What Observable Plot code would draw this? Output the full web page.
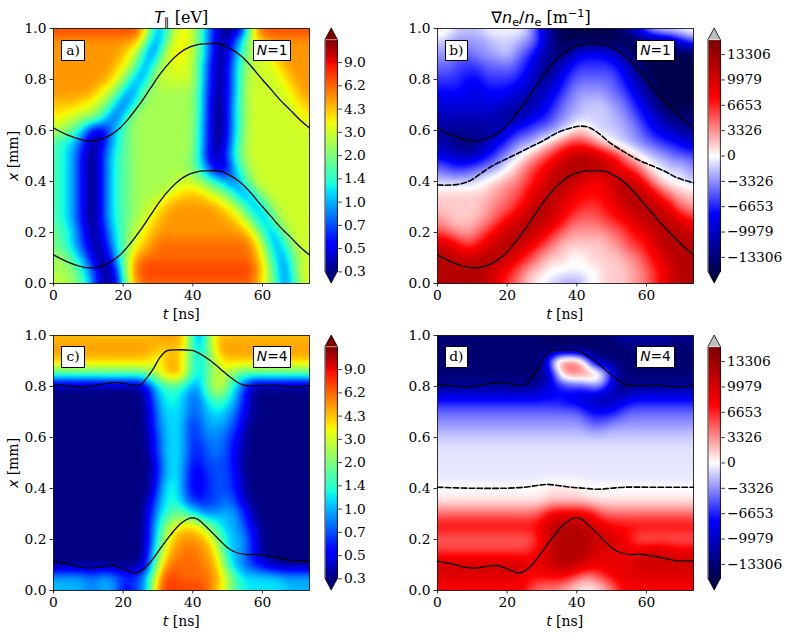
<!DOCTYPE html>
<html><head><meta charset="utf-8">
<script src="https://cdn.jsdelivr.net/npm/d3@7"></script>
<script src="https://cdn.jsdelivr.net/npm/@observablehq/plot@0.6"></script>
<style>
body{margin:0;background:#fff;}
#fig{position:relative;width:789px;height:635px;background:#fff;overflow:hidden;}
.abs{position:absolute;white-space:nowrap;color:#000;line-height:1;}
.serif{font-family:"DejaVu Serif";}
.mi{font-family:"DejaVu Sans";font-style:italic;}
.mr{font-family:"DejaVu Sans";}
.sb{font-family:"DejaVu Sans";font-size:0.7em;position:relative;top:0.3em;}
.sp{font-family:"DejaVu Sans";font-size:0.7em;position:relative;top:-0.5em;}
.box{position:absolute;background:#fff;border:1px solid #000;box-sizing:border-box;display:flex;align-items:center;justify-content:center;font-size:13.8px;line-height:1;white-space:nowrap;}
</style></head><body><div id="fig"></div><script>
// ---------------- data ----------------
const tGrid = [0,2,4,6,8,10,12,14,16,18,20,22,24,26,28,30,32,34,36,38,40,42,44,46,48,50,52,54,56,58,60,62,64,66,68,70,72,73.5];
const xGrid = [1,0.95,0.9,0.85,0.8,0.75,0.7,0.65,0.6,0.55,0.5,0.45,0.4,0.35,0.3,0.25,0.2,0.15,0.1,0.05,0];
// level letters: a = colorbar bottom ... u = colorbar top (steps of 0.05); capitals = half steps
const rowsA = [
 "rrrrrrrrrrrrr"+"pjfhlnnmjgdbaachp"+"rrrrrrrr",
 "pppppppppppp"+"omgfimnnmjgcabehlno"+"ppppppp",
 "pppppppppp"+"onlhehm"+"nnnm"+"jgcabfilmmno"+"ppppp",
 "ppppppppp"+"onmjfgl"+"mmnmm"+"ifbacgjl"+"mmm"+"no"+"pppp",
 "pppppppp"+"onlifgk"+"mmmmmm"+"ifbacgj"+"mmmmm"+"no"+"ppp",
 "pppppp"+"onmkhfgk"+"lllllll"+"iebacgj"+"mmmmmm"+"no"+"pp",
 "oooo"+"nnmljgegj"+"llllllll"+"ieaachj"+"mmmmmmm"+"noo",
 "nnmmllkifehk"+"lllllllll"+"ieaachj"+"mmmmmmmm"+"nn",
 "mlkjhebbehjk"+"lllllllll"+"heaachj"+"mmmmmmmmmm",
 "jihgebacfhjk"+"lllllllll"+"heaadhk"+"mmmmmmmmmm",
 "jihfdaadgijk"+"llllllll"+"khdabeik"+"mmmmmmmmmm",
 "jihfdaadgijk"+"llllllll"+"kifcbcgjl"+"mmmmmmmmm",
 "jihfdaadgijk"+"llllll"+"mmmlkihfehk"+"mmmmmmmmm",
 "jihfdaadgijk"+"llll"+"mnnooonmlkiffil"+"mmmmmmm",
 "jihfdaadgijk"+"llmno"+"ppppppp"+"onmkhfhk"+"mmmmmm",
 "jihfdaadgijk"+"lmno"+"pppppppppp"+"onlifhk"+"mmmmm",
 "kjigebacfhjlmno"+"ppppppppppppp"+"omjfhk"+"mmmm",
 "kjigecabehjlnop"+"qqqqqqqqqqqqqq"+"omifhk"+"mmm",
 "llkigebacgjnp"+"qqqqqqqqqqqqqqqq"+"pnkgfilmm",
 "lllkigdaadioq"+"rrrrrrrrrrrrrrrr"+"qoliehlmn",
 "mmlljhebachnp"+"qqqqqqqqqqqqqqqq"+"pnljfgkmn"
];
const rowsB = [
 "llk"+"jjjj"+"kk"+"kkk"+"kjhecb"+"aaaaaaaa"+"bcegik"+"llllll",
 "jj"+"iiii"+"ii"+"jjj"+"jiihfdb"+"aaaaaaaaa"+"aaabbbcdfgh",
 "iii"+"hhh"+"iii"+"jj"+"ihgfdcbbce"+"ffff"+"edcb"+"aaaaaaaaa",
 "hhh"+"gggg"+"hhhhh"+"gfecbcef"+"gggggg"+"fecb"+"aaaaaaaa",
 "gggg"+"fff"+"ggggg"+"fedccefg"+"hhhhhh"+"gfecb"+"aaaaaaa",
 "fffff"+"ee"+"ffff"+"eedcdefgh"+"iiiii"+"hhgfecb"+"aaaaaa",
 "eeeeeeeeee"+"ddccdefghii"+"jjjj"+"iihgfecb"+"aaaaa",
 "ddddddddd"+"ccc"+"deffghii"+"jjjjjj"+"iihgfedcbbbc",
 "ccccccccc"+"defgghhiijkllkjjjjiihgfeedccc",
 "dccbbbcdefghiijklmnooonmlkjjiihhggffee",
 "feedddefghijklmnopqrsssrqpomlkjjiihhhg",
 "hhggghhiijklmnopqr"+"sssssss"+"rqponlkkjjjii",
 "jjjjjj"+"kkllmmnopqrsss"+"rqppqrssrqomlkkkjj",
 "llllllll"+"mmnnopqrssrq"+"ppppp"+"qrsssrqonmlll",
 "lllllll"+"mmnnopqsssrqppooopp"+"qr"+"ssss"+"rqonmm",
 "mm"+"llll"+"mmnopqrsssrqpo"+"nnnn"+"ooppqr"+"ssss"+"rqpo",
 "onnmmmnopqrsssrqpon"+"mmmmmm"+"nnoppqr"+"ssss"+"rq",
 "rrqpoopqrsssrqponm"+"lllllll"+"mmnoopqr"+"sssss",
 "sss"+"rrr"+"ssss"+"rqponm"+"lll"+"kkk"+"lllll"+"mmnopqr"+"ssss",
 "ssssssss"+"rqponmll"+"kkk"+"kkk"+"kk"+"llll"+"mmnopqr"+"sss",
 "sssssss"+"rqponmlkkj"+"jiiij"+"kk"+"llll"+"mmnopqr"+"sss"
];
const rowsC = [
 "ooooooooooooooo"+"pppp"+"ohejn"+"oooooooooooooo",
 "ppppppppppppppp"+"oooo"+"nigjn"+"pppppppppppppp",
 "oooooooooooooo"+"nmopomihjln"+"ooooooooooooo",
 "jjjjjjjjjjjjjj"+"lmoppmigjlmlk"+"jjjjjjjjjjj",
 "aaaaaaaaaaaaa"+"behijihfgjmnkhfc"+"aaaaaaaaa",
 "aaaaaaaaaaaaaa"+"dghihgefhjjigeb"+"aaaaaaaaa",
 "aaaaaaaaaaaaaa"+"cfhhhgefghhgfdb"+"aaaaaaaaa",
 "aaaaaaaaaaaaaa"+"cfghhfdegggfec"+"aaaaaaaaaa",
 "aaaaaaaaaaaaaa"+"beghhfdefffedb"+"aaaaaaaaaa",
 "aaaaaaaaaaaaaa"+"beghhfddeffecb"+"aaaaaaaaaa",
 "aaaaaaaaaaaaaaa"+"dghhfcdeeeec"+"aaaaaaaaaaa",
 "aaaaaaaaaaaaaaa"+"dghheccdeeedb"+"aaaaaaaaaa",
 "aaaaaaaaaaaaaaa"+"ehiheccdeeedb"+"aaaaaaaaaa",
 "aaaaaaaaaaaaaa"+"cfhihfdddeefec"+"aaaaaaaaaa",
 "aaaaaaaaaaaaaa"+"dgijkjigffgggec"+"aaaaaaaaa",
 "aaaaaaaaaaaaaa"+"ehkmnoonljhggfdb"+"aaaaaaaa",
 "aaaaaaaaaaaaaa"+"eilopppp"+"omjhggec"+"aaaaaaaa",
 "aaaaaaaaaaaaaa"+"fjnppqqppolhggec"+"aaaaaaaa",
 "aaaaaaaaaaaaa"+"bglpqqqqq"+"ppnigfedcb"+"aaaaaa",
 "ggggg"+"ffggfedef"+"jorr"+"qqqqq"+"pomj"+"hhhhhh"+"ggggg",
 "hgggg"+"ffggfccef"+"jq"+"rrrrrr"+"qpnlji"+"hhhhhh"+"gggg"
];
const rowsD = [
 "bbbbbbbbbbbbbbbbbbbbbbbbbb"+"c"+"ddddddd"+"cccc",
 "bbbbbbbbbbbbbbbb"+"aaaaaaa"+"bbbbbbbbbbbbbbb",
 "bbbbbbbbbbbbbbb"+"chmnnnlgc"+"bbbbbbbbbbbbbb",
 "bbbbbbbbbbbbbbbb"+"dhmnnnnmkfc"+"bbbbbbbbbbb",
 "ccccccccccccccc"+"deffggghigecb"+"cccccccccc",
 "fffffffffffffffffff"+"eeddccdde"+"ffffffffff",
 "hhhhhhhhhhhhhhhhhhhhh"+"gffffg"+"hhhhhhhhhhh",
 "iiiiiiiiiiiiiiiiiiiiii"+"hhh"+"iiiiiiiiiiiii",
 "jjjjjjjjjjjjjjjjjjjjjjjjjjjjjjjjjjjjjj",
 "JJJJJJJJJJJJJJJJJJJJJJJJJJJJJJJJJJJJJJ",
 "JJJJJJJJJJJJJJJJJJJJJJJJJJJJJJJJJJJJJJ",
 "JJJJJJJJJJJJJJJJJJJJJJJJJJJJJJJJJJJJJJ",
 "kkkkkkkkkkkkkkkk"+"KKKKK"+"kkkkkkkkkkkkkkkkk",
 "KKKKKKKKKKKKKKKK"+"llllll"+"KKKKKKKKKKKKKKKK",
 "nnnnnnnnnnnnnnn"+"op"+"qqqqq"+"po"+"nnnnnnnnnnnnnn",
 "ppppppppppppppp"+"qr"+"sssss"+"rqq"+"ppppppppppppp",
 "nnnnnnnnnnnnnn"+"opr"+"ssssss"+"rrrqpo"+"nnnnnnnnn",
 "oooooooooooooo"+"pqr"+"sssss"+"r"+"qqqqqqq"+"rrrr"+"qqqq",
 "rrrrrrrrrrrrr"+"qqq"+"rrssrr"+"qqqqqqq"+"rrrrrrrrr",
 "qqqqqqqqqqqqq"+"pppppp"+"onmmnop"+"qqqqqqqqqqqq",
 "ppppppppppppp"+"onmmmllkkkklmo"+"ppppppppppp"
];
// black curves [t (ns), x (mm)]
const upperN1 = [[0,0.610],[3.8,0.584],[7.7,0.565],[10.5,0.558],[13.4,0.565],[16.3,0.582],[19.1,0.610],[22.0,0.654],[24.9,0.706],[27.8,0.765],[30.6,0.821],[33.5,0.869],[36.4,0.906],[39.2,0.928],[42.1,0.939],[45.0,0.941],[47.9,0.939],[50.7,0.922],[53.6,0.895],[56.5,0.856],[59.3,0.810],[62.2,0.765],[65.1,0.719],[68.0,0.680],[70.8,0.641],[73.5,0.610]];
const lowerN1 = [[0,0.112],[3.8,0.086],[7.7,0.067],[10.5,0.061],[13.4,0.067],[16.3,0.084],[19.1,0.112],[22.0,0.156],[24.9,0.208],[27.8,0.267],[30.6,0.323],[33.5,0.371],[36.4,0.408],[39.2,0.430],[42.1,0.441],[45.0,0.443],[47.9,0.441],[50.7,0.424],[53.6,0.397],[56.5,0.358],[59.3,0.312],[62.2,0.267],[65.1,0.221],[68.0,0.182],[70.8,0.143],[73.5,0.112]];
const zeroN1 = [[0,0.386],[3.8,0.386],[6.7,0.391],[9.6,0.405],[12.4,0.431],[15.3,0.458],[19.1,0.484],[23.0,0.510],[26.8,0.536],[30.6,0.562],[34.5,0.592],[38.3,0.610],[41.2,0.617],[43.1,0.614],[45.0,0.601],[46.9,0.582],[49.8,0.549],[53.6,0.516],[57.4,0.486],[61.2,0.464],[65.1,0.441],[68.9,0.414],[73.5,0.395]];
const upperN4 = [[0,0.804],[2.9,0.804],[5.7,0.801],[9.6,0.800],[13.4,0.807],[17.2,0.816],[20.1,0.813],[23.0,0.804],[24.9,0.806],[26.8,0.834],[28.7,0.870],[30.6,0.915],[32.5,0.940],[35.4,0.944],[38.3,0.943],[40.2,0.941],[42.1,0.928],[45.0,0.902],[47.9,0.869],[50.7,0.837],[53.6,0.810],[55.5,0.803],[59.3,0.803],[63.2,0.804],[67.0,0.801],[70.8,0.800],[73.5,0.804]];
const lowerN4 = [[0,0.115],[3.8,0.105],[7.7,0.092],[10.5,0.088],[14.4,0.095],[17.2,0.098],[20.1,0.085],[23.0,0.069],[24.9,0.075],[27.8,0.111],[30.6,0.163],[33.5,0.216],[36.4,0.261],[39.2,0.284],[41.2,0.281],[44.0,0.248],[46.9,0.209],[49.8,0.170],[52.6,0.148],[55.5,0.141],[58.4,0.142],[61.2,0.137],[65.1,0.127],[67.9,0.118],[70.8,0.115],[73.5,0.115]];
const zeroN4 = [[0,0.405],[9.6,0.401],[19.1,0.401],[24.9,0.405],[28.7,0.412],[31.6,0.416],[34.5,0.412],[38.3,0.405],[42.1,0.401],[45.9,0.397],[49.8,0.401],[53.6,0.405],[61.2,0.405],[73.5,0.405]];
const tTicks = [0,20,40,60];
const xTicks = [0,0.2,0.4,0.6,0.8,1.0];
const tempTicks = [0.3176,0.4605,0.6678,0.9683,1.404,2.036,2.952,4.281,6.207,9.0];
const gradTicks = [-13306,-9979,-6653,-3326,0,3326,6653,9979,13306];
const tMax = 73.5, tempLo = 0.3176, tempHi = 12.9, gradMax = 15207;

// ---------------- colour maps ----------------
function seg(t, pts){for(let i=1;i<pts.length;i++){if(t<=pts[i][0]){const [a,ya]=pts[i-1],[b,yb]=pts[i];return ya+(yb-ya)*(t-a)/(b-a);}}return pts[pts.length-1][1];}
function jet(t){t=Math.max(0,Math.min(1,t));
 const r=seg(t,[[0,0],[0.35,0],[0.66,1],[0.89,1],[1,0.5]]);
 const g=seg(t,[[0,0],[0.125,0],[0.375,1],[0.64,1],[0.91,0],[1,0]]);
 const b=seg(t,[[0,0.5],[0.11,1],[0.34,1],[0.65,0],[1,0]]);
 return `rgb(${Math.round(r*255)},${Math.round(g*255)},${Math.round(b*255)})`;}
const seisBase = d3.piecewise(d3.interpolateRgb, ["#00004d","#0000ff","#ffffff","#ff0000","#800000"]);
const seismic = t => seisBase(Math.max(0, Math.min(1, t)));

const lev = ch => { const k = ch.charCodeAt(0); return k >= 97 ? (k-97)*0.05 : (k-65+0.5)*0.05; };
const tempOf = ch => tempLo * Math.pow(tempHi/tempLo, lev(ch));
const gradOf = ch => -gradMax + 2*gradMax*lev(ch);
function gridData(rows, decode){
  const out=[];
  rows.forEach((row,r)=>{for(let c=0;c<tGrid.length;c++){const ch=row[Math.min(c,row.length-1)];out.push({t:tGrid[c],x:xGrid[r],v:decode(ch)});}});
  return out;
}
// barycentric interpolation (Plot) followed by a light blur; optionally in log space
function smoothInterp(logSpace, radius){
  if (!Plot.interpolatorBarycentric) return "barycentric";
  const bary = Plot.interpolatorBarycentric();
  return (index,w,h,X,Y,V) => {
    const W = new Float64Array(V.length);
    for (let i=0;i<V.length;i++) W[i] = logSpace ? Math.log(V[i]) : +V[i];
    const out = Float64Array.from(bary(index,w,h,X,Y,W));
    let last = NaN;
    for (let i=0;i<out.length;i++){ if (isNaN(out[i])) out[i]=last; else last=out[i]; }
    for (let i=out.length-1;i>=0;i--){ if (isNaN(out[i])) out[i]=last; else last=out[i]; }
    if (d3.blur2 && radius>0) d3.blur2({data:out,width:w,height:h}, radius);
    return logSpace ? out.map(Math.exp) : out;
  };
}

const colorT = {type:"log", domain:[tempLo,tempHi], interpolate: jet};
const colorG = {type:"linear", domain:[-gradMax,gradMax], interpolate: seismic};
const svgStyle = {fontFamily:"DejaVu Serif", fontSize:"13.8px", background:"none", overflow:"visible", color:"black"};

const fig = document.getElementById("fig");
function place(el,left,top){el.style.position="absolute";el.style.left=left+"px";el.style.top=top+"px";fig.appendChild(el);}

const F = {a:{L:53.3,R:309.3,T:28.3,B:283.3}, b:{L:436.7,R:692.7,T:28.3,B:283.3}, c:{L:53.3,R:309.3,T:335,B:590}, d:{L:436.7,R:692.7,T:335,B:590}};

function panel(f, rows, decode, color, interp, curves){
  const mL=50,mT=25,mR=6,mB=25, w=f.R-f.L, h=f.B-f.T;
  const marks=[Plot.raster(gridData(rows,decode),{x:"t",y:"x",fill:"v",interpolate:interp,x1:0,x2:tMax,y1:0,y2:1,pixelSize:2})];
  curves.forEach(cv=>{
    const o={x:d=>d[0],y:d=>d[1],curve:"catmull-rom",stroke:"black",strokeWidth:cv.dash?1.6:1.3};
    if(cv.dash) o.strokeDasharray="5.5,2.4";
    marks.push(Plot.line(cv.pts,o));
  });
  marks.push(Plot.frame({stroke:"black",strokeWidth:0.8}));
  marks.push(Plot.axisX({ticks:tTicks,tickSize:3.5,tickPadding:3.5,strokeWidth:0.8,label:null}));
  marks.push(Plot.axisY({ticks:xTicks,tickFormat:d=>d.toFixed(1),tickSize:3.5,tickPadding:3.5,strokeWidth:0.8,label:null}));
  const svg=Plot.plot({width:w+mL+mR,height:h+mT+mB,marginLeft:mL,marginRight:mR,marginTop:mT,marginBottom:mB,
    x:{domain:[0,tMax],label:null},y:{domain:[0,1],label:null},color,style:svgStyle,marks});
  place(svg,f.L-mL,f.T-mT);
}

// colour bar: y is a linear position scale (log10 of the value for the temperature bar)
function colorbar(f, color, domain, fill, ticks, fmt, over, under){
  const ext=11.6, cbW=12.4, cbL=f.R+15.7, top=f.T+ext, bot=f.B-ext, h=bot-top;
  const mL=10,mR=72,mT=ext+8,mB=ext+8;
  const svg=Plot.plot({width:mL+cbW+mR,height:mT+h+mB,marginLeft:mL,marginRight:mR,marginTop:mT,marginBottom:mB,
    x:{domain:[0,1],axis:null},y:{domain,label:null},color,style:svgStyle,
    marks:[
      Plot.raster({fill:(x,y)=>fill(y),x1:0,x2:1,y1:domain[0],y2:domain[1],pixelSize:1}),
      Plot.axisY({anchor:"right",ticks,tickFormat:fmt,tickSize:3.5,tickPadding:2.5,strokeWidth:0.8,label:null})
    ]});
  const s=d3.select(svg), L=mL, R=mL+cbW, C=mL+cbW/2, T=mT, B=mT+h;
  s.append("path").attr("d",`M${L},${T}L${C},${T-ext}L${R},${T}Z`).attr("fill",over);
  s.append("path").attr("d",`M${L},${B}L${C},${B+ext}L${R},${B}Z`).attr("fill",under);
  s.append("path").attr("d",`M${L},${T}L${C},${T-ext}L${R},${T}L${R},${B}L${C},${B+ext}L${L},${B}Z`).attr("fill","none").attr("stroke","black").attr("stroke-width",0.8);
  place(svg,cbL-mL,top-mT);
}

function text(html,cx,cy,size,rot){
  const d=document.createElement("div");d.className="abs";d.innerHTML=html;
  d.style.left=cx+"px";d.style.top=cy+"px";d.style.fontSize=size+"px";
  d.style.transform="translate(-50%,-50%)"+(rot?" rotate(-90deg)":"");fig.appendChild(d);
}
function box(html,left,top,w,h){
  const d=document.createElement("div");d.className="box";d.innerHTML=html;
  d.style.left=left+"px";d.style.top=top+"px";d.style.width=w+"px";d.style.height=h+"px";fig.appendChild(d);
}

const fmtG = d => d<0 ? "\u2212"+(-d) : String(d);
const interpT = smoothInterp(true, 2), interpG = smoothInterp(false, 2);
panel(F.a, rowsA, tempOf, colorT, interpT, [{pts:upperN1},{pts:lowerN1}]);
panel(F.b, rowsB, gradOf, colorG, interpG, [{pts:upperN1},{pts:lowerN1},{pts:zeroN1,dash:true}]);
panel(F.c, rowsC, tempOf, colorT, interpT, [{pts:upperN4},{pts:lowerN4}]);
panel(F.d, rowsD, gradOf, colorG, interpG, [{pts:upperN4},{pts:lowerN4},{pts:zeroN4,dash:true}]);
const logDom = [Math.log10(tempLo), Math.log10(tempHi)];
const logTicks = tempTicks.map(Math.log10);
const fmtLog = d => Math.pow(10, d).toFixed(1);
[F.a, F.c].forEach(f => colorbar(f, colorT, logDom, y => Math.pow(10, y), logTicks, fmtLog, "#800000", "#000080"));
[F.b, F.d].forEach(f => colorbar(f, colorG, [-gradMax, gradMax], y => y, gradTicks, fmtG, "#bfbfbf", "#00004d"));

// titles and axis labels
text('<span class="mi">T</span><span class="sb">\u2225</span><span class="serif"> [eV]</span>', 181.3, 17.5, 16);
text('<span class="mr">\u2207</span><span class="mi">n</span><span class="sb">e</span><span class="mr">/</span><span class="mi">n</span><span class="sb">e</span><span class="serif"> [m</span><span class="sp">\u22121</span><span class="serif">]</span>', 541, 17.5, 16);
[F.a,F.b,F.c,F.d].forEach(f=>text('<span class="mi">t</span><span class="serif"> [ns]</span>',(f.L+f.R)/2,f.B+30.5,14));
[F.a,F.c].forEach(f=>text('<span class="mi">x</span><span class="serif"> [mm]</span>',13,(f.T+f.B)/2,14,true));
const tags=[["a)","1",F.a],["b)","1",F.b],["c)","4",F.c],["d)","4",F.d]];
tags.forEach(([lab,n,f])=>{
  box('<span class="serif">'+lab+'</span>', f.L+8, f.T+11.4, 23.4, 21.6);
  box('<span class="mi">N</span><span class="mr">=' + n + '</span>', f.R-56.3, f.T+11.4, 38.3, 21.6);
});
</script></body></html>
